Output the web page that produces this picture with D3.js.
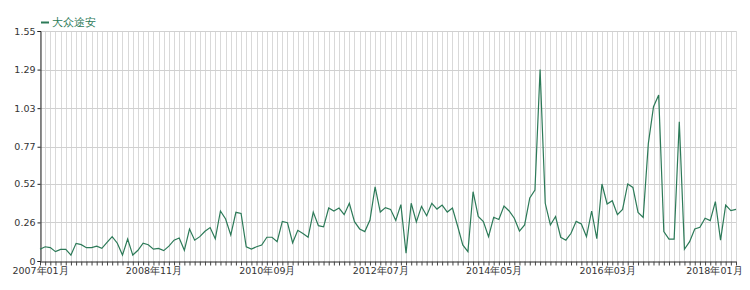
<!DOCTYPE html>
<html>
<head>
<meta charset="utf-8">
<script src="https://cdn.jsdelivr.net/npm/d3@7"></script>
<style>
  body { margin: 0; background: #fff; }
  svg text { font-family: "DejaVu Sans", Verdana, sans-serif; }
</style>
</head>
<body>
<svg id="chart" width="750" height="290"></svg>
<script>
// series name
var seriesName = "大众途安";

// monthly values, 2007-01 .. 2018-04
var values = [
  0.079, 0.096, 0.090, 0.063, 0.078, 0.078, 0.040, 0.119, 0.110, 0.090,
  0.090, 0.100, 0.085, 0.125, 0.164, 0.120, 0.040, 0.148, 0.040, 0.072,
  0.120, 0.110, 0.080, 0.085, 0.070, 0.100, 0.140, 0.155, 0.072, 0.215,
  0.140, 0.164, 0.200, 0.225, 0.150, 0.337, 0.283, 0.175, 0.328, 0.320,
  0.096, 0.080, 0.096, 0.108, 0.160, 0.160, 0.130, 0.267, 0.258, 0.123,
  0.207, 0.186, 0.160, 0.330, 0.238, 0.230, 0.357, 0.337, 0.357, 0.312,
  0.389, 0.265, 0.216, 0.198, 0.276, 0.500, 0.330, 0.360, 0.348, 0.274,
  0.380, 0.052, 0.389, 0.263, 0.368, 0.305, 0.389, 0.350, 0.377, 0.330,
  0.357, 0.236, 0.108, 0.063, 0.467, 0.300, 0.265, 0.164, 0.295, 0.280,
  0.370, 0.337, 0.288, 0.202, 0.243, 0.425, 0.478, 1.290, 0.389, 0.243,
  0.300, 0.160, 0.140, 0.187, 0.267, 0.250, 0.164, 0.337, 0.150, 0.519,
  0.384, 0.406, 0.312, 0.348, 0.519, 0.496, 0.328, 0.294, 0.793, 1.040,
  1.119, 0.198, 0.148, 0.148, 0.939, 0.079, 0.130, 0.216, 0.227, 0.288,
  0.272, 0.400, 0.141, 0.377, 0.339, 0.348
];

// month labels built from the start month
var months = values.map(function(d, i) {
  var yr = 2007 + Math.floor(i / 12), m = (i % 12) + 1;
  return yr + "年" + (m < 10 ? "0" + m : m) + "月";
});

var yTicks = [0, 0.26, 0.52, 0.77, 1.03, 1.29, 1.55];
var labelEvery = 22;

var svg = d3.select("#chart");
var plotLeft = 40, plotRight = 736, plotTop = 31, plotBottom = 261;

var x = d3.scalePoint()
    .domain(months)
    .range([plotLeft, plotRight]);

var y = d3.scaleLinear()
    .domain([0, 1.55])
    .range([plotBottom, plotTop]);

// vertical grid, one per month
svg.append("g")
    .selectAll("line")
    .data(months)
    .enter().append("line")
    .attr("x1", function(d) { return Math.round(x(d)) + 0.5; })
    .attr("x2", function(d) { return Math.round(x(d)) + 0.5; })
    .attr("y1", plotTop)
    .attr("y2", plotBottom)
    .attr("stroke", "#d9d9d9")
    .attr("stroke-width", 1);

// horizontal grid
svg.append("g")
    .selectAll("line")
    .data(yTicks.slice(1))
    .enter().append("line")
    .attr("x1", plotLeft)
    .attr("x2", plotRight)
    .attr("y1", function(d) { return Math.round(y(d)) + 0.5; })
    .attr("y2", function(d) { return Math.round(y(d)) + 0.5; })
    .attr("stroke", "#d0d0d0")
    .attr("stroke-width", 1);

// y axis
var yAxis = svg.append("g")
    .attr("transform", "translate(" + (plotLeft + 0.5) + ",0)")
    .call(d3.axisLeft(y)
        .tickValues(yTicks)
        .tickSize(3)
        .tickPadding(2)
        .tickFormat(function(d) { return d === 0 ? "0" : d3.format(".2f")(d); }));
yAxis.select(".domain").attr("stroke", "#222");
yAxis.selectAll(".tick line").attr("stroke", "#222");
yAxis.selectAll("text").attr("font-size", 9.5).attr("fill", "#333");

// x axis
var xAxis = svg.append("g")
    .attr("transform", "translate(0," + (plotBottom + 0.5) + ")")
    .call(d3.axisBottom(x)
        .tickSize(4)
        .tickPadding(2)
        .tickSizeOuter(0)
        .tickFormat(function(d, i) { return i % labelEvery === 0 ? d : ""; }));
xAxis.select(".domain").attr("stroke", "#222");
xAxis.selectAll(".tick line").attr("stroke", "#444");
xAxis.selectAll("text").attr("font-size", 9.5).attr("fill", "#333");
// keep the last label inside the frame
xAxis.selectAll(".tick text")
    .filter(function(d, i) { return i === months.length - 1 - (months.length - 1) % labelEvery; })
    .each(function() {
        var bb = this.getBBox();
        var px = x(d3.select(this).datum());
        var over = px + bb.width / 2 - 742;
        if (over > 0) d3.select(this).attr("dx", -over);
    });

// line
var line = d3.line()
    .x(function(d, i) { return x(months[i]); })
    .y(function(d) { return y(d); });

svg.append("path")
    .datum(values)
    .attr("d", line)
    .attr("fill", "none")
    .attr("stroke", "#2c7a58")
    .attr("stroke-width", 1.2);

// legend
var legend = svg.append("g").attr("transform", "translate(41,22)");
legend.append("line")
    .attr("x1", 0).attr("x2", 8)
    .attr("y1", 0.5).attr("y2", 0.5)
    .attr("stroke", "#2c7a58")
    .attr("stroke-width", 2);
legend.append("text")
    .attr("x", 11)
    .attr("y", 4)
    .attr("font-size", 10.5)
    .attr("fill", "#2c7a58")
    .text(seriesName);
</script>
</body>
</html>
